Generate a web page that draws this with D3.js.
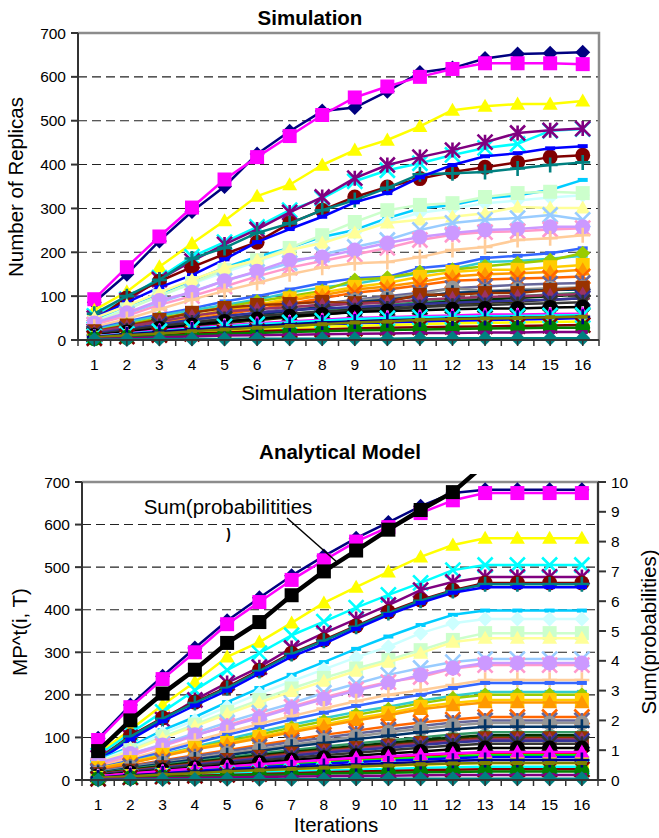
<!DOCTYPE html>
<html>
<head>
<meta charset="utf-8">
<script src="https://cdn.jsdelivr.net/npm/d3@7"></script>
<style>
  body { margin: 0; background: #fff; }
  text { font-family: "Liberation Sans", Arial, sans-serif; fill: #000; }
</style>
</head>
<body>
<svg id="chart" width="659" height="838"></svg>
<script>
// categories and tick values
const iterations = ['1','2','3','4','5','6','7','8','9','10','11','12','13','14','15','16'];
const replicaTicks = [0, 100, 200, 300, 400, 500, 600, 700];
const gridTicks = [100, 200, 300, 400, 500, 600];
const probTicks = [0, 1, 2, 3, 4, 5, 6, 7, 8, 9, 10];

// one entry per node series (Excel default palette order)
const seriesColors = [
  '#000080','#FF00FF','#FFFF00','#00FFFF','#800080','#800000','#008080','#0000FF',
  '#00CCFF','#CCFFFF','#CCFFCC','#FFFF99','#99CCFF','#FF99CC','#CC99FF','#FFCC99',
  '#3366FF','#33CCCC','#99CC00','#FFCC00','#FF9900','#FF6600','#666699','#969696',
  '#003366','#339966','#003300','#333300','#993300','#993366','#333399','#333333',
  '#000000','#FFFFFF','#FF0000','#00FF00','#0000FF','#FFFF00','#FF00FF','#00FFFF',
  '#800000','#008000','#000080','#808000','#800080','#008080'
];
const seriesMarkers = [
  'diamond','square','triangle','x','asterisk','circle','plus','dash','dash',
  'diamond','square','triangle','x','asterisk','circle','plus','dash','dash',
  'diamond','square','triangle','x','asterisk','circle','plus','dash','dash',
  'diamond','square','triangle','x','asterisk','circle','plus','dash','dash',
  'diamond','square','triangle','x','asterisk','circle','plus','dash','dash',
  'diamond'
];

// Simulation: number of replicas per node
const simValues = [
  [86,150,226,293,350,424,476,522,530,567,610,620,642,652,654,656],
  [93,166,236,302,366,417,465,513,553,578,600,618,631,631,631,629],
  [68,110,167,220,272,328,354,399,433,456,487,524,533,538,538,545],
  [55,93,142,190,223,258,296,323,362,387,403,422,438,447,477,481],
  [50,90,138,180,218,252,291,326,369,399,417,433,451,472,478,482],
  [45,96,134,166,196,223,266,296,326,349,368,383,394,405,417,421],
  [60,100,137,186,210,244,266,296,319,347,378,380,383,391,399,405],
  [50,86,120,148,184,223,253,281,314,335,371,399,419,426,437,442],
  [45,75,105,135,165,190,210,235,251,278,300,308,323,330,342,365],
  [42,72,100,128,155,178,205,225,245,270,290,300,312,318,325,330],
  [40,70,100,130,160,182,210,239,269,296,308,312,326,335,338,335],
  [50,78,108,137,164,182,205,221,244,267,274,281,289,303,301,301],
  [35,60,85,110,135,155,175,195,212,228,251,267,274,278,285,274],
  [35,55,80,100,122,145,165,180,195,210,228,240,246,248,252,255],
  [39,62,90,109,135,157,182,189,205,221,235,244,251,253,258,258],
  [30,48,70,92,112,130,150,165,175,178,189,205,212,228,232,239],
  [25,42,58,72,88,100,115,130,141,144,164,171,187,192,198,209],
  [22,40,55,68,80,92,108,120,128,140,152,162,178,180,185,192],
  [20,35,50,62,75,88,100,112,137,142,155,160,168,175,182,198],
  [18,30,42,55,68,80,95,108,121,130,144,155,160,160,166,171],
  [16,28,40,52,64,76,90,102,115,122,132,145,150,152,155,160],
  [15,25,36,46,58,70,82,95,108,115,125,135,138,140,142,145],
  [12,22,32,42,52,62,72,82,92,100,108,118,122,126,128,130],
  [12,20,30,40,50,60,70,80,90,96,104,118,112,115,118,120],
  [12,20,30,38,48,58,66,76,86,92,100,108,110,112,114,115],
  [10,18,26,34,42,50,58,66,74,80,86,92,96,100,104,108],
  [10,18,26,33,40,48,55,62,70,76,82,88,92,96,100,104],
  [8,15,22,30,38,45,52,58,65,70,76,82,85,88,92,95],
  [20,33,46,62,73,80,82,87,84,87,103,103,107,107,114,119],
  [18,30,42,55,65,70,75,80,82,85,92,95,98,100,102,105],
  [15,25,36,46,55,62,68,72,75,78,82,85,88,90,92,95],
  [12,22,32,40,48,55,60,65,68,72,75,78,80,82,84,86],
  [10,18,26,34,42,48,54,58,64,66,68,70,72,72,74,75],
  [8,14,20,26,32,36,40,44,46,50,52,54,56,56,58,60],
  [8,14,20,25,30,34,38,42,45,48,50,52,54,55,56,58],
  [7,12,17,22,26,30,34,37,40,42,44,46,48,50,51,52],
  [6,11,16,20,24,28,32,35,38,40,42,44,45,47,48,50],
  [5,9,13,17,21,24,27,30,32,34,36,38,39,40,41,42],
  [9,15,22,28,33,38,42,46,50,52,54,56,58,58,59,60],
  [8,14,20,26,31,36,40,44,48,50,52,53,54,55,56,57],
  [4,8,11,14,17,20,22,24,26,28,29,30,31,32,33,34],
  [3,6,9,12,14,16,18,20,22,23,24,25,26,27,28,28],
  [7,13,18,24,28,32,36,40,42,45,47,49,50,51,52,53],
  [6,11,15,20,24,28,32,36,40,42,46,48,49,50,52,53],
  [2,4,6,8,10,11,12,13,14,15,16,16,17,17,18,18],
  [1,1,2,2,2,3,3,3,3,3,4,4,4,4,4,4]
];

// Analytical model: MP^t(i, T) per node
const modelValues = [
  [98,176,244,310,374,428,480,526,568,605,643,674,682,682,682,682],
  [94,171,237,300,366,418,470,516,560,594,627,657,674,674,674,674],
  [62,118,176,230,289,324,369,416,453,489,524,552,568,568,568,568],
  [58,110,160,211,258,298,340,372,405,435,463,493,505,505,505,505],
  [52,100,142,188,228,265,310,345,378,411,446,465,477,477,477,477],
  [48,104,146,183,218,258,298,329,362,395,423,446,463,463,463,463],
  [47,102,144,181,216,256,296,327,360,392,421,444,460,460,460,460],
  [45,95,138,175,210,250,290,320,355,388,416,440,453,453,453,453],
  [47,78,117,148,183,216,247,277,308,337,364,388,398,398,398,398],
  [44,74,110,140,172,203,232,260,288,313,345,368,378,378,378,378],
  [42,70,102,130,160,188,215,240,262,282,305,329,345,345,345,345],
  [40,68,98,126,155,182,208,232,256,277,298,324,333,333,333,333],
  [36,60,85,110,135,158,180,205,226,247,263,277,284,284,284,284],
  [34,56,80,104,128,150,172,194,213,230,242,262,270,270,270,270],
  [40,62,82,106,125,146,169,190,210,228,247,263,275,275,275,275],
  [30,50,70,92,112,132,150,168,185,200,211,223,235,235,235,235],
  [28,46,66,86,106,124,142,158,174,188,200,216,228,228,228,228],
  [26,43,60,78,96,113,130,145,160,172,186,198,207,207,207,207],
  [24,40,57,74,91,107,123,138,153,166,180,192,200,200,200,200],
  [28,42,59,75,87,101,117,130,145,157,172,181,188,188,188,188],
  [26,40,56,72,84,98,112,126,140,152,166,175,182,182,182,182],
  [22,34,46,58,70,82,94,106,116,126,135,142,148,148,148,148],
  [20,32,44,56,67,78,89,99,109,118,127,135,140,140,140,140],
  [18,30,40,50,62,72,83,93,102,112,120,128,134,134,134,134],
  [17,28,38,48,58,68,78,87,96,104,112,119,125,125,125,125],
  [16,26,35,44,53,62,70,78,86,93,100,107,112,112,112,112],
  [15,24,33,42,50,58,66,73,80,87,94,100,105,105,105,105],
  [14,23,31,40,48,55,63,70,76,83,89,95,100,100,100,100],
  [14,22,30,38,47,54,62,69,75,81,87,93,98,98,98,98],
  [13,21,29,37,45,52,60,67,73,79,85,91,96,96,96,96],
  [13,20,28,36,43,50,57,64,70,76,82,88,92,92,92,92],
  [12,19,26,33,40,46,52,58,64,70,76,81,85,85,85,85],
  [10,17,23,29,35,41,47,52,57,62,67,72,75,75,75,75],
  [9,14,19,24,29,34,38,42,46,50,54,57,60,60,60,60],
  [9,15,20,26,31,36,41,45,49,53,57,61,64,64,64,64],
  [8,13,18,23,28,32,37,41,45,49,52,55,58,58,58,58],
  [7,12,17,21,26,30,34,38,42,45,48,51,54,54,54,54],
  [5,9,12,16,19,22,25,28,31,34,36,38,40,40,40,40],
  [9,15,21,27,32,37,42,47,52,56,60,63,66,66,66,66],
  [4,7,10,12,15,17,20,22,24,26,28,30,31,31,31,31],
  [3,6,8,10,12,14,16,18,20,21,23,24,25,25,25,25],
  [3,5,7,8,10,12,13,15,16,17,18,19,20,20,20,20],
  [6,11,15,19,23,26,30,33,36,39,42,45,47,47,47,47],
  [5,9,13,16,20,23,26,29,32,34,37,39,40,40,40,40],
  [2,3,4,5,6,7,8,9,10,10,11,12,12,12,12,12],
  [0,1,1,1,2,2,2,2,3,3,3,3,3,3,3,3]
];

// right axis series: Sum(probabilities)
const sumProbabilities = [0.97,2.0,2.9,3.7,4.6,5.3,6.2,7.0,7.7,8.4,9.06,9.66,10.6,10.6,10.6,10.6];

const svg = d3.select('#chart');

function markerPath(type, r) {
  switch (type) {
    case 'diamond': return `M0,${-r}L${r},0L0,${r}L${-r},0Z`;
    case 'square': return `M${-r + 0.5},${-r + 0.5}H${r - 0.5}V${r - 0.5}H${-r + 0.5}Z`;
    case 'triangle': return `M0,${-r}L${r},${r * 0.75}L${-r},${r * 0.75}Z`;
    case 'circle': return `M${r},0A${r},${r} 0 1,1 ${-r},0A${r},${r} 0 1,1 ${r},0Z`;
    case 'dash': return 'M-5,-2H5V2H-5Z';
    case 'x': return `M${-r},${-r}L${r},${r}M${-r},${r}L${r},${-r}`;
    case 'asterisk': return `M${-r},${-r}L${r},${r}M${-r},${r}L${r},${-r}M0,${-r}V${r}`;
    case 'plus': return `M${-r},0H${r}M0,${-r}V${r}`;
  }
}
const strokeMarkers = ['x', 'asterisk', 'plus'];

function drawSeries(g, xScale, yScale, values, color, marker, lineWidth, size) {
  const s = g.append('g');
  s.append('path')
    .datum(values)
    .attr('fill', 'none')
    .attr('stroke', color)
    .attr('stroke-width', lineWidth)
    .attr('stroke-linejoin', 'round')
    .attr('d', d3.line()
      .x((d, i) => xScale(iterations[i]) + xScale.bandwidth() / 2)
      .y(d => yScale(d)));
  const isStroke = strokeMarkers.includes(marker);
  s.selectAll('path.mk')
    .data(values)
    .join('path')
    .attr('class', 'mk')
    .attr('transform', (d, i) => `translate(${xScale(iterations[i]) + xScale.bandwidth() / 2},${yScale(d)})`)
    .attr('d', markerPath(marker, size))
    .attr('fill', isStroke ? 'none' : color)
    .attr('stroke', isStroke ? color : 'none')
    .attr('stroke-width', isStroke ? 2.6 : 0);
  return s;
}

function drawPanel(cfg) {
  const g = svg.append('g');
  const xScale = d3.scaleBand().domain(iterations).range([cfg.left, cfg.right]);
  const yScale = d3.scaleLinear().domain([0, 700]).range([cfg.bottom, cfg.top]);

  // dashed gridlines
  g.selectAll('line.grid')
    .data(gridTicks)
    .join('line')
    .attr('x1', cfg.left).attr('x2', cfg.right)
    .attr('y1', d => yScale(d)).attr('y2', d => yScale(d))
    .attr('stroke', '#222')
    .attr('stroke-width', 1.1)
    .attr('stroke-dasharray', '9,5');

  // plot area border (top / right)
  g.append('path')
    .attr('d', `M${cfg.left},${cfg.top}H${cfg.right}V${cfg.bottom}`)
    .attr('fill', 'none')
    .attr('stroke', '#8c8c8c')
    .attr('stroke-width', 2.5);

  // series
  cfg.values.forEach((vals, k) => {
    drawSeries(g, xScale, yScale, vals, seriesColors[k], seriesMarkers[k], 2.5, 7.5);
  });

  // left axis
  g.append('line')
    .attr('x1', cfg.left).attr('x2', cfg.left)
    .attr('y1', cfg.top).attr('y2', cfg.bottom)
    .attr('stroke', '#333').attr('stroke-width', 2);
  g.selectAll('line.ytick')
    .data(replicaTicks)
    .join('line')
    .attr('x1', cfg.left - 7).attr('x2', cfg.left)
    .attr('y1', d => yScale(d)).attr('y2', d => yScale(d))
    .attr('stroke', '#333').attr('stroke-width', 2);
  g.selectAll('text.ylab')
    .data(replicaTicks)
    .join('text')
    .attr('x', cfg.left - 12)
    .attr('y', d => yScale(d) + 5.5)
    .attr('text-anchor', 'end')
    .attr('font-size', '15.5px')
    .text(d => d);

  // bottom axis
  g.append('line')
    .attr('x1', cfg.left).attr('x2', cfg.right)
    .attr('y1', cfg.bottom).attr('y2', cfg.bottom)
    .attr('stroke', '#333').attr('stroke-width', 2);
  const half = xScale.bandwidth() / 2;
  const tickXs = [];
  iterations.forEach(c => { tickXs.push(xScale(c)); tickXs.push(xScale(c) + half); });
  tickXs.push(cfg.right);
  g.selectAll('line.xtick')
    .data(tickXs)
    .join('line')
    .attr('x1', d => d).attr('x2', d => d)
    .attr('y1', cfg.bottom).attr('y2', cfg.bottom + 6)
    .attr('stroke', '#333').attr('stroke-width', 1.5);
  g.selectAll('text.xlab')
    .data(iterations)
    .join('text')
    .attr('x', d => xScale(d) + half)
    .attr('y', cfg.tickLabelY)
    .attr('text-anchor', 'middle')
    .attr('font-size', '15.5px')
    .text(d => d);

  // titles
  g.append('text')
    .attr('x', cfg.titleX).attr('y', cfg.titleY)
    .attr('text-anchor', 'middle')
    .attr('font-size', '20.5px')
    .attr('font-weight', 'bold')
    .text(cfg.title);
  g.append('text')
    .attr('x', cfg.xTitleX).attr('y', cfg.xTitleY)
    .attr('text-anchor', 'middle')
    .attr('font-size', '20.5px')
    .text(cfg.xTitle);
  g.append('text')
    .attr('transform', `translate(${cfg.yTitleX},${cfg.yTitleY}) rotate(-90)`)
    .attr('text-anchor', 'middle')
    .attr('font-size', '20.5px')
    .text(cfg.yTitle);

  return { g, xScale, yScale };
}

// Simulation panel
drawPanel({
  left: 78, right: 599, top: 33, bottom: 340,
  values: simValues,
  title: 'Simulation', titleX: 310, titleY: 25,
  xTitle: 'Simulation Iterations', xTitleX: 334, xTitleY: 400, tickLabelY: 370,
  yTitle: 'Number of Replicas', yTitleX: 23, yTitleY: 187
});

// Analytical Model panel
const model = drawPanel({
  left: 82, right: 598, top: 482, bottom: 780,
  values: modelValues,
  title: 'Analytical Model', titleX: 340, titleY: 459,
  xTitle: 'Iterations', xTitleX: 336, xTitleY: 832, tickLabelY: 810,
  yTitle: 'MP^t(i, T)', yTitleX: 27, yTitleY: 632
});

// right axis for Sum(probabilities)
const yProb = d3.scaleLinear().domain([0, 10]).range([780, 482]);
const mg = model.g;
mg.append('line')
  .attr('x1', 598).attr('x2', 598).attr('y1', 482).attr('y2', 780)
  .attr('stroke', '#333').attr('stroke-width', 2);
mg.selectAll('line.rtick')
  .data(probTicks)
  .join('line')
  .attr('x1', 598).attr('x2', 606)
  .attr('y1', d => yProb(d)).attr('y2', d => yProb(d))
  .attr('stroke', '#333').attr('stroke-width', 2);
mg.selectAll('text.rlab')
  .data(probTicks)
  .join('text')
  .attr('x', 611)
  .attr('y', d => yProb(d) + 5.5)
  .attr('font-size', '15.5px')
  .text(d => d);
mg.append('text')
  .attr('transform', 'translate(656,632) rotate(-90)')
  .attr('text-anchor', 'middle')
  .attr('font-size', '20.5px')
  .text('Sum(probabilities)');

// Sum series, clipped a little above the plot area
mg.append('clipPath').attr('id', 'sumClip')
  .append('rect').attr('x', 60).attr('y', 474).attr('width', 560).attr('height', 320);
drawSeries(mg, model.xScale, yProb, sumProbabilities, '#000', 'square', 4.5, 7.5)
  .attr('clip-path', 'url(#sumClip)');

// annotation
mg.append('text')
  .attr('x', 228).attr('y', 514)
  .attr('text-anchor', 'middle')
  .attr('font-size', '20.5px')
  .text('Sum(probabilitities');
mg.append('clipPath').attr('id', 'parenClip')
  .append('rect').attr('x', 215).attr('y', 528).attr('width', 30).attr('height', 14);
mg.append('text')
  .attr('x', 228).attr('y', 540)
  .attr('text-anchor', 'middle')
  .attr('font-size', '20.5px')
  .attr('clip-path', 'url(#parenClip)')
  .text(')');
mg.append('line')
  .attr('x1', 287).attr('y1', 518).attr('x2', 338).attr('y2', 563)
  .attr('stroke', '#000').attr('stroke-width', 1.5);
</script>
</body>
</html>
